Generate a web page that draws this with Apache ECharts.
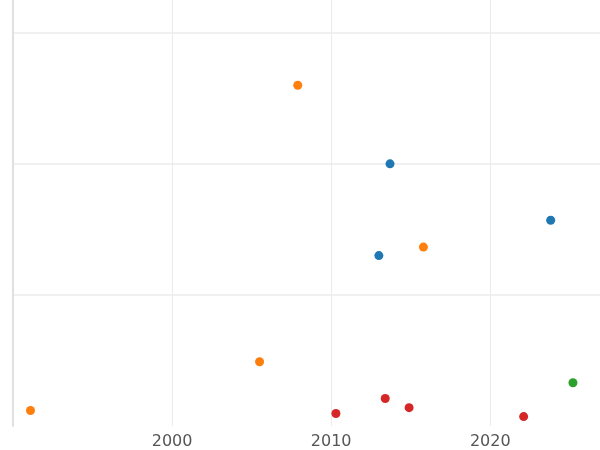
<!DOCTYPE html>
<html>
<head>
    <meta charset="utf-8">
    <script src="https://cdn.jsdelivr.net/npm/echarts@6/dist/echarts.min.js"></script>
</head>
<body style="margin:0">
    <div id="main" style="width:600px;height:450px;"></div>
    <script>
        // 各系列数据 [年份, 数值]
        var blueData = [[2013.7, 2.00], [2023.8, 1.57], [2013.0, 1.30]];
        var orangeData = [[2007.9, 2.60], [2015.8, 1.365], [2005.5, 0.49], [1991.1, 0.118]];
        var greenData = [[2025.2, 0.33]];
        var redData = [[2013.4, 0.21], [2014.9, 0.14], [2010.3, 0.095], [2022.1, 0.072]];

        var myChart = echarts.init(document.getElementById('main'));
        function mk(data, color) {
            return {
                type: 'scatter',
                data: data,
                symbolSize: 9,
                itemStyle: { color: color, opacity: 1 }
            };
        }
        var option = {
            backgroundColor: '#fff',
            animation: false,
            textStyle: { fontFamily: 'DejaVu Sans' },
            grid: { left: 13, right: 0, top: 0, bottom: 22 },
            xAxis: {
                type: 'value',
                min: 1990,
                max: 2026.9,
                interval: 10,
                axisLine: { show: false },
                axisTick: { show: false },
                splitLine: { lineStyle: { color: '#ebebeb', width: 1 } },
                axisLabel: {
                    color: '#555', fontSize: 16, fontFamily: 'DejaVu Sans',
                    showMinLabel: false, showMaxLabel: false, margin: 8,
                    formatter: function (v) { return String(v); }
                }
            },
            yAxis: {
                type: 'value',
                min: 0,
                max: 3.25,
                interval: 1,
                axisLine: { show: true, lineStyle: { color: '#e0e0e0', width: 2 } },
                axisTick: { show: false },
                axisLabel: { show: false },
                splitLine: { lineStyle: { color: ['#ffffff', '#ebebeb', '#ebebeb', '#ebebeb'], width: 1.5 } }
            },
            series: [
                mk(blueData, '#1f77b4'),
                mk(orangeData, '#ff7f0e'),
                mk(greenData, '#2ca02c'),
                mk(redData, '#d62728')
            ]
        };
        myChart.setOption(option);
    </script>
</body>
</html>
